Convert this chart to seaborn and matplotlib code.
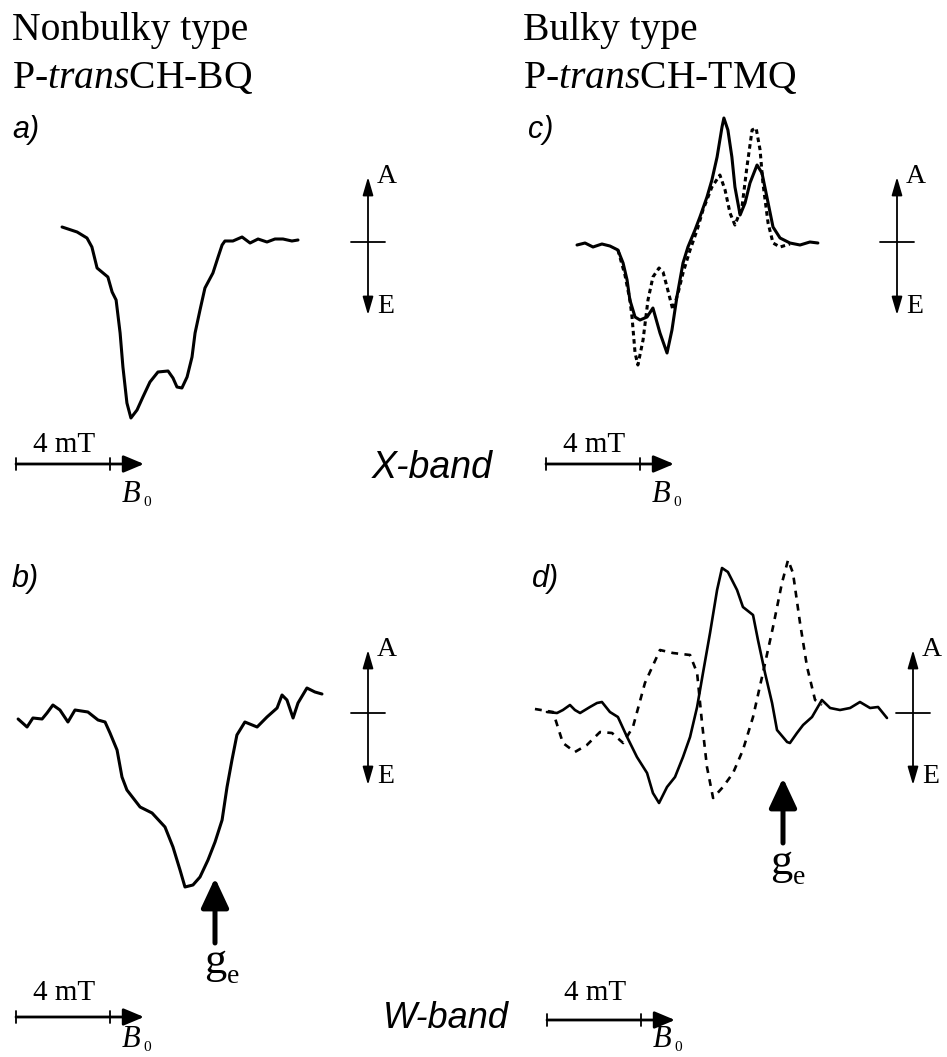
import matplotlib
matplotlib.use("Agg")
import matplotlib.pyplot as plt
import seaborn as sns

sns.set_theme(style="white")
plt.rcParams["font.family"] = ["Liberation Serif", "DejaVu Serif"]
plt.rcParams["text.color"] = "black"
plt.rcParams["mathtext.fontset"] = "custom"
plt.rcParams["mathtext.rm"] = "Liberation Serif"
plt.rcParams["mathtext.it"] = "Liberation Serif:italic"

# ---------------- data (field in mT from scale-bar origin, signal in arb. units; +A / -E) ----
a_field = [1.96, 2.60, 3.02, 3.23, 3.45, 3.91, 4.09, 4.26, 4.43, 4.55, 4.72, 4.89, 5.15, 5.40,
           5.70, 6.04, 6.47, 6.68, 6.85, 7.06, 7.28, 7.49, 7.62, 7.83, 8.04, 8.38, 8.60, 8.77,
           8.89, 9.23, 9.62, 9.96, 10.30, 10.68, 11.02, 11.36, 11.74, 12.00]
a_signal = [0.14, 0.09, 0.03, -0.06, -0.27, -0.36, -0.51, -0.59, -0.92, -1.26, -1.62, -1.77,
            -1.69, -1.56, -1.41, -1.31, -1.30, -1.37, -1.46, -1.47, -1.36, -1.16, -0.92, -0.69,
            -0.47, -0.32, -0.16, -0.04, 0.00, 0.00, 0.04, -0.02, 0.02, -0.01, 0.02, 0.02, 0.00, 0.01]

b_field = [0.09, 0.47, 0.72, 1.11, 1.32, 1.57, 1.87, 2.21, 2.51, 3.06, 3.49, 3.79, 4.00, 4.30,
           4.51, 4.72, 5.28, 5.79, 6.34, 6.68, 6.98, 7.19, 7.53, 7.83, 8.17, 8.47, 8.77, 8.98,
           9.19, 9.40, 9.74, 10.26, 10.68, 11.11, 11.32, 11.53, 11.79, 12.00, 12.38, 12.72, 13.02]
b_signal = [-0.06, -0.14, -0.05, -0.06, 0.00, 0.08, 0.03, -0.09, 0.03, 0.01, -0.07, -0.09, -0.20,
            -0.37, -0.64, -0.77, -0.94, -1.00, -1.14, -1.34, -1.57, -1.74, -1.72, -1.64, -1.47,
            -1.29, -1.07, -0.74, -0.47, -0.22, -0.09, -0.14, -0.04, 0.05, 0.18, 0.13, -0.05,
            0.10, 0.25, 0.21, 0.19]

c_field = [1.32, 1.66, 2.00, 2.38, 2.72, 3.06, 3.28, 3.45, 3.57, 3.79, 4.00, 4.30, 4.55, 4.85,
           5.15, 5.36, 5.57, 5.83, 6.04, 6.34, 6.55, 6.85, 7.06, 7.28, 7.49, 7.57, 7.74, 7.91,
           8.04, 8.26, 8.47, 8.68, 8.98, 9.19, 9.40, 9.66, 9.96, 10.38, 10.81, 11.23, 11.57]
c_signal = [-0.03, -0.01, -0.05, -0.02, -0.04, -0.08, -0.21, -0.38, -0.58, -0.75, -0.78, -0.75,
            -0.66, -0.91, -1.11, -0.88, -0.55, -0.21, -0.05, 0.12, 0.25, 0.45, 0.62, 0.85, 1.15,
            1.24, 1.12, 0.85, 0.55, 0.27, 0.39, 0.59, 0.77, 0.69, 0.45, 0.15, 0.04, -0.01,
            -0.03, 0.00, -0.01]
c_sim_field = [3.06, 3.36, 3.57, 3.66, 3.79, 3.91, 4.13, 4.34, 4.55, 4.81, 4.98, 5.15, 5.40,
               5.62, 5.83, 6.13, 6.43, 6.68, 7.06, 7.40, 7.62, 7.83, 8.04, 8.34, 8.55, 8.77,
               8.94, 9.11, 9.23, 9.45, 9.66, 9.96, 10.38]
c_sim_signal = [-0.08, -0.33, -0.58, -0.75, -1.11, -1.23, -0.98, -0.58, -0.35, -0.26, -0.30,
                -0.45, -0.68, -0.51, -0.31, -0.08, 0.12, 0.32, 0.55, 0.67, 0.52, 0.29, 0.17,
                0.35, 0.75, 1.12, 1.14, 0.92, 0.59, 0.19, -0.01, -0.05, -0.02]

d_field = [0.04, 0.47, 0.72, 1.02, 1.23, 1.45, 1.87, 2.17, 2.38, 2.72, 3.06, 3.45, 3.87, 4.30,
           4.55, 4.81, 5.15, 5.49, 5.83, 6.13, 6.43, 6.68, 6.98, 7.28, 7.49, 7.74, 8.13, 8.38,
           8.81, 9.02, 9.32, 9.62, 9.83, 10.26, 10.38, 10.68, 10.94, 11.32, 11.74, 12.09, 12.51,
           12.94, 13.36, 13.79, 14.13, 14.51]
d_signal = [0.01, 0.00, 0.03, 0.08, 0.03, 0.00, 0.06, 0.10, 0.11, 0.01, -0.04, -0.24, -0.44,
            -0.60, -0.80, -0.90, -0.74, -0.64, -0.44, -0.24, 0.06, 0.40, 0.80, 1.23, 1.45, 1.41,
            1.23, 1.06, 0.98, 0.73, 0.40, 0.10, -0.17, -0.29, -0.30, -0.20, -0.12, -0.04, 0.13,
            0.05, 0.03, 0.05, 0.11, 0.05, 0.06, -0.05]
d_sim_field = [-0.47, 0.30, 0.72, 1.23, 1.74, 2.30, 2.81, 3.28, 3.70, 4.21, 4.85, 5.40, 6.13,
               6.43, 6.64, 6.85, 7.11, 7.53, 7.96, 8.38, 8.81, 9.23, 9.66, 10.04, 10.30, 10.51,
               10.81, 11.11, 11.45, 11.74]
d_sim_signal = [0.04, 0.01, -0.30, -0.39, -0.32, -0.19, -0.20, -0.30, -0.14, 0.30, 0.63, 0.60,
                0.58, 0.40, -0.10, -0.54, -0.85, -0.74, -0.60, -0.37, -0.04, 0.40, 0.86, 1.30,
                1.53, 1.40, 0.90, 0.46, 0.13, 0.08]

header_left = ["Nonbulky type", "P-$\\mathit{trans}$CH-BQ"]
header_right = ["Bulky type", "P-$\\mathit{trans}$CH-TMQ"]
panel_labels = ["a)", "b)", "c)", "d)"]
band_labels = ["X-band", "W-band"]
scale_label = "4 mT"
scale_mT = 4

# ---------------- layout ----------------
W, H = 947, 1057
PX_PER_MT = 23.5
PX_PER_UNIT = 100.0

fig = plt.figure(figsize=(W / 100, H / 100), dpi=100)
canvas = fig.add_axes([0, 0, 1, 1])
canvas.set_xlim(0, W)
canvas.set_ylim(H, 0)
canvas.axis("off")


def panel_axes(x0, base):
    ax = fig.add_axes([0, 0, 1, 1])
    ax.set_xlim(-x0 / PX_PER_MT, (W - x0) / PX_PER_MT)
    ax.set_ylim((base - H) / PX_PER_UNIT, base / PX_PER_UNIT)
    ax.axis("off")
    ax.patch.set_alpha(0)
    return ax


panels = [
    # x0, baseline, field, signal, sim field, sim signal, lw, dash
    (16, 241, a_field, a_signal, None, None, 2.2, None),
    (16, 713, b_field, b_signal, None, None, 2.2, None),
    (546, 242, c_field, c_signal, c_sim_field, c_sim_signal, 2.2, (1.5, 1.2)),
    (546, 713, d_field, d_signal, d_sim_field, d_sim_signal, 1.9, (2.6, 2.4)),
]
for x0, base, f, s, sf, ss, lw, dash in panels:
    ax = panel_axes(x0, base)
    sns.lineplot(x=f, y=s, ax=ax, color="black", lw=lw, sort=False, estimator=None,
                 solid_joinstyle="round", solid_capstyle="round")
    if sf is not None:
        sns.lineplot(x=sf, y=ss, ax=ax, color="black", lw=lw, sort=False, estimator=None,
                     linestyle=(0, dash))

# ---------------- annotations ----------------
serif = "Liberation Serif"
sans = "Liberation Sans"

for x, lines in [(12, header_left), (523, header_right)]:
    canvas.text(x, 40, lines[0], fontsize=28.5, family=serif, va="baseline")
    canvas.text(x, 88, lines[1], fontsize=28.5, family=serif, va="baseline")

for (x, y), lab in zip([(12, 138), (12, 587), (528, 138), (532, 587)], panel_labels):
    canvas.text(x, y, lab, fontsize=22, family=sans, style="italic", va="baseline")

canvas.text(372, 478, band_labels[0], fontsize=27, family=sans, style="italic", va="baseline")
canvas.text(383, 1028, band_labels[1], fontsize=26, family=sans, style="italic", va="baseline")


def scale_bar(x0, y, label_base, b_base):
    x1 = x0 + scale_mT * PX_PER_MT
    canvas.annotate("", xy=(x0 + 128, y), xytext=(x0, y),
                    arrowprops=dict(arrowstyle="-|>,head_length=0.62,head_width=0.26",
                                    lw=2.0, color="black", shrinkA=0, shrinkB=0,
                                    mutation_scale=20))
    for xt in (x0, x1):
        canvas.plot([xt, xt], [y - 6, y + 6], color="black", lw=1.3)
    canvas.text((x0 + x1) / 2 + 1, label_base, scale_label, fontsize=21, family=serif,
                ha="center", va="baseline")
    canvas.text(x1 + 12, b_base, "B", fontsize=22, family=serif, style="italic",
                va="baseline")
    canvas.text(x1 + 33, b_base + 4, "0", fontsize=11, family=serif, va="baseline")


scale_bar(16, 464, 452, 502)
scale_bar(546, 464, 452, 502)
scale_bar(16, 1017, 1000, 1047)
scale_bar(547, 1020, 1000, 1047)


def ae_axis(xv, top, bottom, base):
    canvas.annotate("", xy=(xv, top), xytext=(xv, bottom),
                    arrowprops=dict(arrowstyle="<|-|>,head_length=0.55,head_width=0.16",
                                    lw=1.3, color="black", shrinkA=0, shrinkB=0,
                                    mutation_scale=20))
    canvas.plot([xv - 17, xv + 17], [base, base], color="black", lw=1.3)
    canvas.text(xv + 9, top + 6, "A", fontsize=20, family=serif, va="baseline")
    canvas.text(xv + 9, bottom - 2, "E", fontsize=20, family=serif, va="baseline")


ae_axis(368, 177, 315, 242)
ae_axis(897, 177, 315, 242)
ae_axis(368, 650, 785, 713)
ae_axis(913, 650, 785, 713)


def ge_marker(xc, tip, tail, gx, gbase):
    canvas.annotate("", xy=(xc, tip), xytext=(xc, tail),
                    arrowprops=dict(arrowstyle="-|>,head_length=0.9,head_width=0.42",
                                    lw=3.6, color="black", shrinkA=0, shrinkB=0,
                                    mutation_scale=20))
    canvas.text(gx, gbase, "g", fontsize=32, family=serif, va="baseline")
    canvas.text(gx + 23, gbase + 10, "e", fontsize=20, family=serif, va="baseline")


ge_marker(215, 878, 943, 204, 973)
ge_marker(783, 778, 843, 770, 874)

fig.savefig("out.png", dpi=100)
